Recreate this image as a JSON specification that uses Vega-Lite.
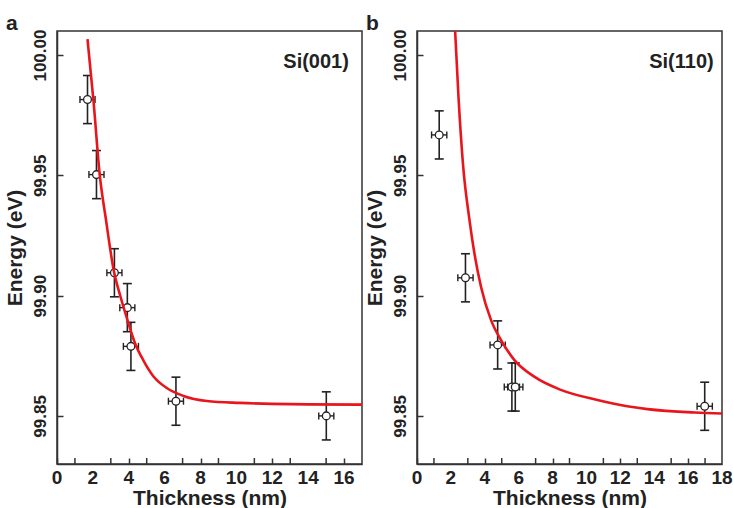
{
  "$schema": "https://vega.github.io/schema/vega-lite/v6.json",
  "background": "white",
  "padding": {"left": 3, "top": 12, "right": 0, "bottom": 0},
  "spacing": 0,
  "config": {
    "view": {"stroke": "#333", "strokeWidth": 1.5},
    "font": "Liberation Sans",
    "axis": {"grid": false, "domainColor": "#333", "domainWidth": 1.5, "tickColor": "#333", "tickWidth": 1.5, "tickSize": -6, "labelFont": "Liberation Sans", "labelFontWeight": "bold", "labelFontSize": 17, "labelColor": "#222", "titleFont": "Liberation Sans", "titleFontWeight": "bold", "titleFontSize": 21, "titleColor": "#222", "labelFlush": false},
    "axisY": {"labelAngle": -90, "labelAlign": "center", "labelBaseline": "bottom", "labelPadding": 14, "titlePadding": 6},
    "axisX": {"labels": false, "titlePadding": 23},
    "title": {"anchor": "start", "frame": "bounds", "fontSize": 21, "fontWeight": "bold", "font": "Liberation Sans", "color": "#222", "offset": -5, "baseline": "alphabetic"}
  },
  "datasets": {
    "ptsA": [
      {"t": 1.70, "E": 99.9815, "tlo": 1.28, "thi": 2.12, "Elo": 99.9715, "Ehi": 99.9915},
      {"t": 2.20, "E": 99.9503, "tlo": 1.78, "thi": 2.62, "Elo": 99.9403, "Ehi": 99.9603},
      {"t": 3.20, "E": 99.9095, "tlo": 2.78, "thi": 3.62, "Elo": 99.8995, "Ehi": 99.9195},
      {"t": 3.92, "E": 99.8950, "tlo": 3.50, "thi": 4.34, "Elo": 99.8850, "Ehi": 99.9050},
      {"t": 4.12, "E": 99.8789, "tlo": 3.70, "thi": 4.54, "Elo": 99.8689, "Ehi": 99.8889},
      {"t": 6.63, "E": 99.8561, "tlo": 6.21, "thi": 7.05, "Elo": 99.8461, "Ehi": 99.8661},
      {"t": 15.01, "E": 99.8500, "tlo": 14.59, "thi": 15.43, "Elo": 99.8400, "Ehi": 99.8600}
    ],
    "fitA": [
      {"t": 1.70, "E": 100.0066},
      {"t": 2.04, "E": 99.9804},
      {"t": 2.37, "E": 99.9510},
      {"t": 2.74, "E": 99.9310},
      {"t": 3.15, "E": 99.9110},
      {"t": 3.56, "E": 99.8990},
      {"t": 3.90, "E": 99.8905},
      {"t": 4.36, "E": 99.8800},
      {"t": 4.82, "E": 99.8730},
      {"t": 5.38, "E": 99.8664},
      {"t": 6.12, "E": 99.8616},
      {"t": 7.05, "E": 99.8583},
      {"t": 8.35, "E": 99.8562},
      {"t": 10.2, "E": 99.8554},
      {"t": 12.0, "E": 99.8550},
      {"t": 14.0, "E": 99.8548},
      {"t": 17.0, "E": 99.8547}
    ],
    "labA": [{"label": "Si(001)", "t": 16.27, "E": 99.997}],
    "minorA": [{"t": 1}, {"t": 3}, {"t": 5}, {"t": 7}, {"t": 9}, {"t": 11}, {"t": 13}, {"t": 15}],
    "xlabA": [{"t": 0}, {"t": 2}, {"t": 4}, {"t": 6}, {"t": 8}, {"t": 10}, {"t": 12}, {"t": 14}, {"t": 16}],
    "ptsB": [
      {"t": 1.31, "E": 99.9668, "tlo": 0.86, "thi": 1.76, "Elo": 99.9568, "Ehi": 99.9768},
      {"t": 2.86, "E": 99.9074, "tlo": 2.41, "thi": 3.31, "Elo": 99.8974, "Ehi": 99.9174},
      {"t": 4.76, "E": 99.8795, "tlo": 4.31, "thi": 5.21, "Elo": 99.8695, "Ehi": 99.8895},
      {"t": 5.60, "E": 99.8620, "tlo": 5.15, "thi": 6.05, "Elo": 99.8520, "Ehi": 99.8720},
      {"t": 5.80, "E": 99.8620, "tlo": 5.35, "thi": 6.25, "Elo": 99.8520, "Ehi": 99.8720},
      {"t": 16.98, "E": 99.8540, "tlo": 16.53, "thi": 17.43, "Elo": 99.8440, "Ehi": 99.8640}
    ],
    "fitB": [
      {"t": 2.25, "E": 100.0100},
      {"t": 2.45, "E": 99.9824},
      {"t": 2.71, "E": 99.9550},
      {"t": 3.10, "E": 99.9313},
      {"t": 3.39, "E": 99.9175},
      {"t": 3.78, "E": 99.9036},
      {"t": 4.37, "E": 99.8898},
      {"t": 4.96, "E": 99.8815},
      {"t": 5.75, "E": 99.8732},
      {"t": 6.92, "E": 99.8663},
      {"t": 8.49, "E": 99.8608},
      {"t": 10.65, "E": 99.8566},
      {"t": 12.5, "E": 99.8539},
      {"t": 13.6, "E": 99.8528},
      {"t": 16.4, "E": 99.8514},
      {"t": 18.0, "E": 99.8510}
    ],
    "labB": [{"label": "Si(110)", "t": 17.51, "E": 99.997}],
    "minorB": [{"t": 1}, {"t": 3}, {"t": 5}, {"t": 7}, {"t": 9}, {"t": 11}, {"t": 13}, {"t": 15}, {"t": 17}],
    "xlabB": [{"t": 0}, {"t": 2}, {"t": 4}, {"t": 6}, {"t": 8}, {"t": 10}, {"t": 12}, {"t": 14}, {"t": 16}, {"t": 18}]
  },
  "hconcat": [
    {
      "width": 305, "height": 433,
      "title": {"text": "a", "dx": 2},
      "layer": [
        {
          "data": {"name": "ptsA"},
          "mark": {"type": "rule", "color": "#222", "strokeWidth": 1.6},
          "encoding": {
            "x": {"field": "t", "type": "quantitative", "title": "Thickness (nm)", "scale": {"domain": [0, 17], "nice": false, "zero": false}, "axis": {"values": [0, 2, 4, 6, 8, 10, 12, 14, 16]}},
            "y": {"field": "Elo", "type": "quantitative", "title": "Energy (eV)", "scale": {"domain": [99.83, 100.01], "nice": false, "zero": false}, "axis": {"values": [99.85, 99.9, 99.95, 100], "format": ".2f"}},
            "y2": {"field": "Ehi"}
          }
        },
        {
          "data": {"name": "minorA"},
          "mark": {"type": "tick", "orient": "vertical", "size": 12, "thickness": 1.5, "color": "#333", "opacity": 1, "clip": true},
          "encoding": {
            "x": {"field": "t", "type": "quantitative", "title": "Thickness (nm)"},
            "y": {"datum": 99.83, "type": "quantitative", "title": "Energy (eV)"}
          }
        },
        {
          "data": {"name": "xlabA"},
          "mark": {"type": "text", "baseline": "top", "align": "center", "dy": 5, "fontSize": 19, "fontWeight": "bold", "font": "Liberation Sans", "color": "#222"},
          "encoding": {
            "x": {"field": "t", "type": "quantitative", "title": "Thickness (nm)"},
            "y": {"datum": 99.83, "type": "quantitative", "title": "Energy (eV)"},
            "text": {"field": "t", "type": "quantitative", "format": "d"}
          }
        },
        {
          "data": {"name": "ptsA"},
          "mark": {"type": "tick", "orient": "horizontal", "size": 9, "thickness": 1.6, "color": "#222", "opacity": 1},
          "encoding": {
            "x": {"field": "t", "type": "quantitative", "title": "Thickness (nm)"},
            "y": {"field": "Elo", "type": "quantitative", "title": "Energy (eV)"}
          }
        },
        {
          "data": {"name": "ptsA"},
          "mark": {"type": "tick", "orient": "horizontal", "size": 9, "thickness": 1.6, "color": "#222", "opacity": 1},
          "encoding": {
            "x": {"field": "t", "type": "quantitative", "title": "Thickness (nm)"},
            "y": {"field": "Ehi", "type": "quantitative", "title": "Energy (eV)"}
          }
        },
        {
          "data": {"name": "ptsA"},
          "mark": {"type": "rule", "color": "#222", "strokeWidth": 1.4},
          "encoding": {
            "x": {"field": "tlo", "type": "quantitative", "title": "Thickness (nm)"},
            "x2": {"field": "thi"},
            "y": {"field": "E", "type": "quantitative", "title": "Energy (eV)"}
          }
        },
        {
          "data": {"name": "ptsA"},
          "mark": {"type": "tick", "orient": "vertical", "size": 7, "thickness": 1.4, "color": "#222", "opacity": 1},
          "encoding": {
            "x": {"field": "tlo", "type": "quantitative", "title": "Thickness (nm)"},
            "y": {"field": "E", "type": "quantitative", "title": "Energy (eV)"}
          }
        },
        {
          "data": {"name": "ptsA"},
          "mark": {"type": "tick", "orient": "vertical", "size": 7, "thickness": 1.4, "color": "#222", "opacity": 1},
          "encoding": {
            "x": {"field": "thi", "type": "quantitative", "title": "Thickness (nm)"},
            "y": {"field": "E", "type": "quantitative", "title": "Energy (eV)"}
          }
        },
        {
          "data": {"name": "ptsA"},
          "mark": {"type": "point", "shape": "circle", "filled": true, "fill": "white", "stroke": "#222", "strokeWidth": 1.3, "size": 60, "opacity": 1},
          "encoding": {
            "x": {"field": "t", "type": "quantitative", "title": "Thickness (nm)"},
            "y": {"field": "E", "type": "quantitative", "title": "Energy (eV)"}
          }
        },
        {
          "data": {"name": "fitA"},
          "mark": {"type": "line", "color": "#e8161c", "strokeWidth": 2.6, "interpolate": "monotone", "clip": true},
          "encoding": {
            "x": {"field": "t", "type": "quantitative", "title": "Thickness (nm)"},
            "y": {"field": "E", "type": "quantitative", "title": "Energy (eV)"}
          }
        },
        {
          "data": {"name": "labA"},
          "mark": {"type": "text", "align": "right", "baseline": "middle", "fontSize": 20, "fontWeight": "bold", "font": "Liberation Sans", "color": "#222"},
          "encoding": {
            "x": {"field": "t", "type": "quantitative", "title": "Thickness (nm)"},
            "y": {"field": "E", "type": "quantitative", "title": "Energy (eV)"},
            "text": {"field": "label"}
          }
        }
      ]
    },
    {
      "width": 305, "height": 433,
      "title": {"text": "b", "dx": 2},
      "layer": [
        {
          "data": {"name": "ptsB"},
          "mark": {"type": "rule", "color": "#222", "strokeWidth": 1.6},
          "encoding": {
            "x": {"field": "t", "type": "quantitative", "title": "Thickness (nm)", "scale": {"domain": [0, 18], "nice": false, "zero": false}, "axis": {"values": [0, 2, 4, 6, 8, 10, 12, 14, 16, 18]}},
            "y": {"field": "Elo", "type": "quantitative", "title": "Energy (eV)", "scale": {"domain": [99.83, 100.01], "nice": false, "zero": false}, "axis": {"values": [99.85, 99.9, 99.95, 100], "format": ".2f"}},
            "y2": {"field": "Ehi"}
          }
        },
        {
          "data": {"name": "minorB"},
          "mark": {"type": "tick", "orient": "vertical", "size": 12, "thickness": 1.5, "color": "#333", "opacity": 1, "clip": true},
          "encoding": {
            "x": {"field": "t", "type": "quantitative", "title": "Thickness (nm)"},
            "y": {"datum": 99.83, "type": "quantitative", "title": "Energy (eV)"}
          }
        },
        {
          "data": {"name": "xlabB"},
          "mark": {"type": "text", "baseline": "top", "align": "center", "dy": 5, "fontSize": 19, "fontWeight": "bold", "font": "Liberation Sans", "color": "#222"},
          "encoding": {
            "x": {"field": "t", "type": "quantitative", "title": "Thickness (nm)"},
            "y": {"datum": 99.83, "type": "quantitative", "title": "Energy (eV)"},
            "text": {"field": "t", "type": "quantitative", "format": "d"}
          }
        },
        {
          "data": {"name": "ptsB"},
          "mark": {"type": "tick", "orient": "horizontal", "size": 9, "thickness": 1.6, "color": "#222", "opacity": 1},
          "encoding": {
            "x": {"field": "t", "type": "quantitative", "title": "Thickness (nm)"},
            "y": {"field": "Elo", "type": "quantitative", "title": "Energy (eV)"}
          }
        },
        {
          "data": {"name": "ptsB"},
          "mark": {"type": "tick", "orient": "horizontal", "size": 9, "thickness": 1.6, "color": "#222", "opacity": 1},
          "encoding": {
            "x": {"field": "t", "type": "quantitative", "title": "Thickness (nm)"},
            "y": {"field": "Ehi", "type": "quantitative", "title": "Energy (eV)"}
          }
        },
        {
          "data": {"name": "ptsB"},
          "mark": {"type": "rule", "color": "#222", "strokeWidth": 1.4},
          "encoding": {
            "x": {"field": "tlo", "type": "quantitative", "title": "Thickness (nm)"},
            "x2": {"field": "thi"},
            "y": {"field": "E", "type": "quantitative", "title": "Energy (eV)"}
          }
        },
        {
          "data": {"name": "ptsB"},
          "mark": {"type": "tick", "orient": "vertical", "size": 7, "thickness": 1.4, "color": "#222", "opacity": 1},
          "encoding": {
            "x": {"field": "tlo", "type": "quantitative", "title": "Thickness (nm)"},
            "y": {"field": "E", "type": "quantitative", "title": "Energy (eV)"}
          }
        },
        {
          "data": {"name": "ptsB"},
          "mark": {"type": "tick", "orient": "vertical", "size": 7, "thickness": 1.4, "color": "#222", "opacity": 1},
          "encoding": {
            "x": {"field": "thi", "type": "quantitative", "title": "Thickness (nm)"},
            "y": {"field": "E", "type": "quantitative", "title": "Energy (eV)"}
          }
        },
        {
          "data": {"name": "ptsB"},
          "mark": {"type": "point", "shape": "circle", "filled": true, "fill": "white", "stroke": "#222", "strokeWidth": 1.3, "size": 60, "opacity": 1},
          "encoding": {
            "x": {"field": "t", "type": "quantitative", "title": "Thickness (nm)"},
            "y": {"field": "E", "type": "quantitative", "title": "Energy (eV)"}
          }
        },
        {
          "data": {"name": "fitB"},
          "mark": {"type": "line", "color": "#e8161c", "strokeWidth": 2.6, "interpolate": "monotone", "clip": true},
          "encoding": {
            "x": {"field": "t", "type": "quantitative", "title": "Thickness (nm)"},
            "y": {"field": "E", "type": "quantitative", "title": "Energy (eV)"}
          }
        },
        {
          "data": {"name": "labB"},
          "mark": {"type": "text", "align": "right", "baseline": "middle", "fontSize": 20, "fontWeight": "bold", "font": "Liberation Sans", "color": "#222"},
          "encoding": {
            "x": {"field": "t", "type": "quantitative", "title": "Thickness (nm)"},
            "y": {"field": "E", "type": "quantitative", "title": "Energy (eV)"},
            "text": {"field": "label"}
          }
        }
      ]
    }
  ]
}
